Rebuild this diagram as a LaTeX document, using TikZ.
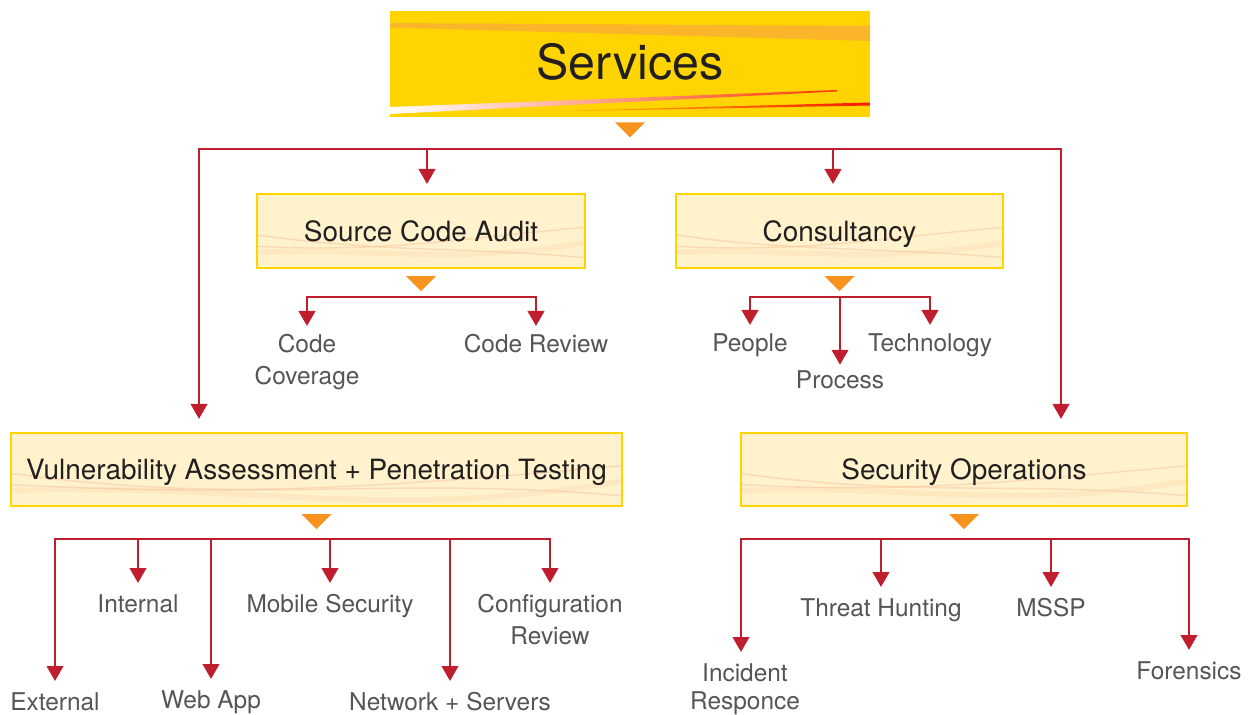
\documentclass[tikz,border=0pt]{standalone}
\usepackage{fontspec}
\setmainfont{TeX Gyre Heros}
\usetikzlibrary{arrows.meta,calc,backgrounds}

\definecolor{svcyellow}{HTML}{FFD400}
\definecolor{svcband}{HTML}{FBB52B}
\definecolor{boxcream}{HTML}{FFF2CC}
\definecolor{boxedge}{HTML}{FFD500}
\definecolor{linkred}{HTML}{BE1E2D}
\definecolor{tiporange}{HTML}{F7931E}
\definecolor{swashc}{HTML}{F6C29C}
\definecolor{ink}{HTML}{231F20}
\definecolor{lblgray}{HTML}{555555}

\tikzset{
  head/.style={inner sep=0pt, text=ink, font=\fontsize{15.9}{19}\selectfont,
    text height=14.6pt, text depth=3.2pt, minimum height=1.48cm},
  framed/.style={head, draw=boxedge, line width=1.3pt},
  lbl/.style={inner sep=0pt, anchor=north, align=center, text=lblgray,
    font=\fontsize{13.9}{18.1}\selectfont},
  link/.style={draw=linkred, line width=1.1pt, line cap=rect},
  drop/.style={link, -{Triangle[width=9.5pt,length=8.5pt]}},
  near/.style={shorten >=4.6pt},
  far/.style={shorten >=6.3pt},
  swash/.style={draw=swashc, line width=.8pt, opacity=.5},
}

% little orange pointer under a box
\newcommand\pointer[1]{%
  \fill[tiporange] ($(#1.south)+(-15,7)$) -- ++(30,0) -- ++(-15,15) -- cycle;}

\begin{document}
\begin{tikzpicture}[x=0.02cm,y=-0.02cm]
\useasboundingbox (0,0) rectangle (1252,714);

% boxes
\node[head, minimum width=9.6cm, minimum height=2.12cm,
  font=\fontsize{27.5}{30}\selectfont, text height=25.3pt, text depth=5.5pt]
  (svc) at (630,62) {Services};
\node[framed, minimum width=6.56cm] (sca) at (421,231) {Source Code Audit};
\node[framed, minimum width=6.54cm] (cons) at (839.5,231) {Consultancy};
\node[framed, minimum width=12.22cm, minimum height=1.46cm] (vapt) at (316.5,469.5)
  {Vulnerability Assessment + Penetration Testing};
\node[framed, minimum width=8.92cm, minimum height=1.46cm] (secops) at (964,469.5)
  {Security Operations};

\begin{scope}[on background layer]
  \fill[svcyellow] (390,11) rectangle (870,116.5);
  \fill[svcband] (390,23) -- (870,26) -- (870,41) -- (390,27.5) -- cycle;
  \shade[left color=white, right color=red!55!orange] (390,107) -- (837,90) -- (837,91.5) -- (390,114) -- cycle;
  \shade[left color=svcyellow, right color=red!80!orange] (520,112) -- (870,102.5) -- (870,105.5) -- cycle;
  \foreach \b in {sca,cons,vapt,secops}{
    \fill[boxcream] (\b.south west) rectangle (\b.north east);
    \begin{scope}
      \clip (\b.south west) rectangle (\b.north east);
      \draw[swash] ($(\b.south west)!.3!(\b.north west)$) to[out=-3,in=185]
        ($(\b.south east)!.55!(\b.north east)$);
      \draw[swash] ($(\b.south west)!.45!(\b.north west)$) to[out=-8,in=175]
        ($(\b.south east)!.15!(\b.north east)$);
      \draw[swash, line width=3pt, opacity=.2] ($(\b.south west)!.22!(\b.north west)$)
        to[out=2,in=190] ($(\b.south east)!.35!(\b.north east)$);
    \end{scope}
  }
\end{scope}

\pointer{svc}
\pointer{sca}
\pointer{cons}
\pointer{vapt}
\pointer{secops}

% top level
\coordinate (main-l) at (199,149);
\coordinate (main-r) at (1061,149);
\coordinate (d-sca) at (427,149);
\coordinate (d-cons) at (833,149);
\draw[link] (main-l) -- (main-r);
\draw[drop, shorten >=7.4pt] (main-l) -- (main-l |- vapt.north);
\draw[drop, shorten >=7.4pt] (main-r) -- (main-r |- secops.north);
\draw[drop, shorten >=5.1pt] (d-sca) -- (d-sca |- sca.north);
\draw[drop, shorten >=5.1pt] (d-cons) -- (d-cons |- cons.north);

% source code audit
\node[lbl] (cov) at (307,334) {Code\\Coverage};
\node[lbl] (rev) at (536,334) {Code Review};
\coordinate (sca-l) at (307,297);
\coordinate (sca-r) at (536,297);
\draw[link] (sca-l) -- (sca-r);
\draw[drop, near] (sca-l) -- (cov.north);
\draw[drop, near] (sca-r) -- (rev.north);

% consultancy
\node[lbl] (ppl) at (750,333) {People};
\node[lbl] (prc) at (840,370) {Process};
\node[lbl] (tec) at (930,333) {Technology};
\coordinate (cons-l) at (750,297);
\coordinate (cons-r) at (930,297);
\draw[link] (cons-l) -- (cons-r);
\draw[drop, near] (cons-l) -- (ppl.north);
\draw[drop, shorten >=3pt] (prc |- cons-l) -- (prc.north);
\draw[drop, near] (cons-r) -- (tec.north);

% vulnerability assessment
\node[lbl] (ext) at (55,692) {External};
\node[lbl] (int) at (138,594) {Internal};
\node[lbl] (web) at (211,690) {Web App};
\node[lbl] (mob) at (330,594) {Mobile Security};
\node[lbl] (net) at (450,692) {Network + Servers};
\node[lbl] (cfg) at (550,594) {Configuration\\Review};
\coordinate (vapt-l) at (55,539);
\coordinate (vapt-r) at (550,539);
\draw[link] (vapt-l) -- (vapt-r);
\foreach \t in {ext,int,web,mob,net,cfg}
  \draw[drop, far] (\t |- vapt-l) -- (\t.north);

% security operations
\node[lbl, font=\fontsize{13.9}{16.4}\selectfont] (inc) at (745,663) {Incident\\Responce};
\node[lbl] (thr) at (881,598) {Threat Hunting};
\node[lbl] (mss) at (1051,598) {MSSP};
\node[lbl] (frn) at (1189,661) {Forensics};
\coordinate (sec-l) at (741,539);
\coordinate (sec-r) at (1189,539);
\draw[link] (sec-l) -- (sec-r);
\draw[drop, far] (sec-l) -- (sec-l |- inc.north);
\foreach \t in {thr,mss,frn}
  \draw[drop, far] (\t |- sec-l) -- (\t.north);

\end{tikzpicture}
\end{document}
